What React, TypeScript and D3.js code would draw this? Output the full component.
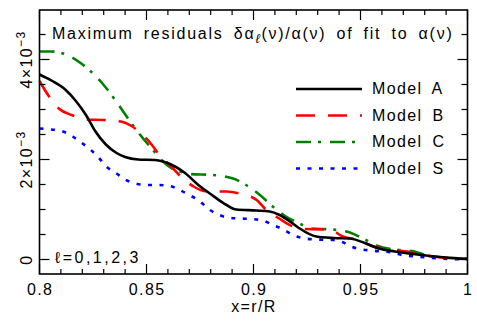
import React, { useRef, useEffect } from "react";
import * as d3 from "d3";

// values in units of 1e-3
const xA = [0.8, 0.806, 0.812, 0.817, 0.822, 0.826, 0.831, 0.836, 0.84, 0.846, 0.854, 0.861, 0.868, 0.8745, 0.8796, 0.8874, 0.892, 0.9014, 0.9076, 0.9122, 0.9184, 0.9216, 0.9294, 0.9375, 0.945, 0.952, 0.9586, 0.966, 0.9766, 0.9845, 1.0];
const yA = [3.7, 3.57, 3.4, 3.17, 2.87, 2.57, 2.3, 2.13, 2.05, 2.0, 1.99, 1.91, 1.73, 1.48, 1.32, 1.09, 1.0, 0.98, 0.96, 0.89, 0.72, 0.62, 0.46, 0.43, 0.42, 0.33, 0.22, 0.16, 0.1, 0.06, 0.01];

const xB = [0.8, 0.804, 0.809, 0.815, 0.822, 0.83, 0.838, 0.843, 0.8475, 0.852, 0.8555, 0.8615, 0.866, 0.872, 0.878, 0.8875, 0.8935, 0.9015, 0.906, 0.912, 0.9185, 0.9235, 0.9355, 0.9417, 0.9485, 0.956, 0.9625, 0.973, 0.978, 0.988, 1.0];
const yB = [3.57, 3.29, 3.02, 2.89, 2.8, 2.79, 2.76, 2.67, 2.52, 2.32, 2.12, 1.86, 1.66, 1.46, 1.36, 1.36, 1.32, 1.19, 0.99, 0.82, 0.66, 0.61, 0.6, 0.46, 0.39, 0.26, 0.21, 0.15, 0.1, 0.04, 0.01];

const xC = [0.8, 0.8055, 0.811, 0.8195, 0.824, 0.83, 0.8375, 0.8435, 0.849, 0.853, 0.857, 0.862, 0.8665, 0.87, 0.881, 0.8905, 0.8965, 0.903, 0.909, 0.914, 0.9215, 0.9265, 0.937, 0.945, 0.9525, 0.9575, 0.968, 0.974, 0.9835, 1.0];
const yC = [4.16, 4.16, 4.12, 3.92, 3.76, 3.49, 3.06, 2.69, 2.39, 2.19, 1.99, 1.82, 1.75, 1.71, 1.69, 1.62, 1.49, 1.29, 1.06, 0.89, 0.72, 0.62, 0.6, 0.54, 0.39, 0.28, 0.19, 0.17, 0.06, 0.02];

const xS = [0.8, 0.8055, 0.811, 0.8155, 0.8195, 0.824, 0.828, 0.831, 0.836, 0.84, 0.845, 0.8505, 0.8555, 0.861, 0.8655, 0.87, 0.875, 0.879, 0.8835, 0.888, 0.8935, 0.899, 0.9045, 0.909, 0.914, 0.9185, 0.924, 0.9295, 0.937, 0.9415, 0.945, 0.9495, 0.955, 0.965, 0.9705, 0.976, 0.987, 1.0];
const yS = [2.62, 2.6, 2.56, 2.46, 2.34, 2.19, 2.02, 1.87, 1.72, 1.6, 1.52, 1.49, 1.49, 1.47, 1.39, 1.29, 1.16, 1.01, 0.9, 0.84, 0.82, 0.81, 0.78, 0.69, 0.6, 0.49, 0.42, 0.4, 0.39, 0.35, 0.27, 0.21, 0.18, 0.14, 0.08, 0.06, 0.02, 0.0];

const seriesNames = ["Model A", "Model B", "Model C", "Model S"];
const seriesColors = ["#000000", "#ff0000", "#008000", "#0000ff"];
const seriesDash = ["", "19 13", "15 7 3 9", "4 7.5"];

const xTickLabels = ["0.8", "0.85", "0.9", "0.95", "1"];
const xTickValues = [0.8, 0.85, 0.9, 0.95, 1.0];
const yTickValues = [0, 2, 4];
const yTickMantissa = ["0", "2", "4"];

const App = () => {
  const ref = useRef<SVGSVGElement>(null);

  useEffect(() => {
    const W = 477, H = 324;
    const left = 39.5, right = 467.5, top = 10, bottom = 274;
    const font = "'Liberation Sans', Arial, sans-serif";

    const svg = d3.select(ref.current);
    svg.selectAll("*").remove();

    const x = d3.scaleLinear().domain([0.8, 1.0]).range([left, right]);
    const y = d3.scaleLinear().domain([-0.29, 4.99]).range([bottom, top]);

    svg.append("rect").attr("width", W).attr("height", H).attr("fill", "#fff");

    const series = [
      { x: xA, y: yA },
      { x: xB, y: yB },
      { x: xC, y: yC },
      { x: xS, y: yS },
    ];

    const line = d3
      .line<[number, number]>()
      .x((d) => x(d[0]))
      .y((d) => y(d[1]))
      .curve(d3.curveMonotoneX);

    const plot = svg.append("g");
    // draw S first, A last (on top)
    [3, 2, 1, 0].forEach((i) => {
      const pts = series[i].x.map((v, j) => [v, series[i].y[j]] as [number, number]);
      plot
        .append("path")
        .attr("d", line(pts))
        .attr("fill", "none")
        .attr("stroke", seriesColors[i])
        .attr("stroke-width", 2.6)
        .attr("stroke-dasharray", seriesDash[i] || null);
    });

    // frame
    svg
      .append("rect")
      .attr("x", left)
      .attr("y", top)
      .attr("width", right - left)
      .attr("height", bottom - top)
      .attr("fill", "none")
      .attr("stroke", "#000")
      .attr("stroke-width", 1.6);

    // ticks, inward on all four sides
    const ticks = svg.append("g").attr("stroke", "#000").attr("stroke-width", 1.2);
    d3.range(0, 21).forEach((k) => {
      const v = 0.8 + k * 0.01;
      const len = k % 5 === 0 ? 10 : 5;
      ticks.append("line").attr("x1", x(v)).attr("x2", x(v)).attr("y1", bottom).attr("y2", bottom - len);
      ticks.append("line").attr("x1", x(v)).attr("x2", x(v)).attr("y1", top).attr("y2", top + len);
    });
    d3.range(0, 10).forEach((k) => {
      const v = k * 0.5;
      const len = k % 4 === 0 ? 10 : 6;
      ticks.append("line").attr("x1", left).attr("x2", left + len).attr("y1", y(v)).attr("y2", y(v));
      ticks.append("line").attr("x1", right).attr("x2", right - len).attr("y1", y(v)).attr("y2", y(v));
    });

    const txt = (sel: any) =>
      sel
        .attr("font-family", font)
        .attr("font-size", 16)
        .attr("letter-spacing", 1.4)
        .attr("word-spacing", 4);

    // x labels
    xTickValues.forEach((v, i) => {
      svg
        .append("text")
        .call(txt)
        .attr("x", x(v) + 0.7)
        .attr("y", 295)
        .attr("text-anchor", "middle")
        .text(xTickLabels[i]);
    });

    svg
      .append("text")
      .call(txt)
      .attr("x", 254)
      .attr("y", 312)
      .attr("text-anchor", "middle")
      .text("x=r/R");

    // y labels (rotated)
    yTickValues.forEach((v, i) => {
      const t = svg
        .append("text")
        .call(txt)
        .attr("transform", `translate(32,${y(v)}) rotate(-90)`)
        .attr("text-anchor", "middle");
      if (v === 0) {
        t.text(yTickMantissa[i]);
      } else {
        t.append("tspan").text(`${yTickMantissa[i]}×10`);
        t.append("tspan").attr("dy", -7).attr("font-size", 12).text("−3");
      }
    });

    // title
    const title = svg
      .append("text")
      .call(txt)
      .attr("letter-spacing", 1.75)
      .attr("x", 52)
      .attr("y", 39);
    title.append("tspan").text("Maximum residuals δα");
    title.append("tspan").attr("dy", 4).attr("font-size", 13).attr("font-style", "italic").text("ℓ");
    title.append("tspan").attr("dy", -4).text("(ν)/α(ν) of fit to α(ν)");

    svg
      .append("text")
      .call(txt)
      .attr("letter-spacing", 2.5)
      .attr("x", 55)
      .attr("y", 263)
      .text("ℓ=0,1,2,3");

    // legend
    const legend = svg.append("g");
    seriesNames.forEach((name, i) => {
      const by = 94 + i * 26.5;
      legend
        .append("line")
        .attr("x1", 296)
        .attr("x2", 362)
        .attr("y1", by - 5)
        .attr("y2", by - 5)
        .attr("stroke", seriesColors[i])
        .attr("stroke-width", 2.6)
        .attr("stroke-dasharray", seriesDash[i] || null);
      legend
        .append("text")
        .call(txt)
        .attr("x", 372)
        .attr("y", by)
        .text(name);
    });
  }, []);

  return (
    <svg
      ref={ref}
      width={477}
      height={324}
      style={{ position: "absolute", left: 0, top: 0 }}
    ></svg>
  );
};

export default App;
